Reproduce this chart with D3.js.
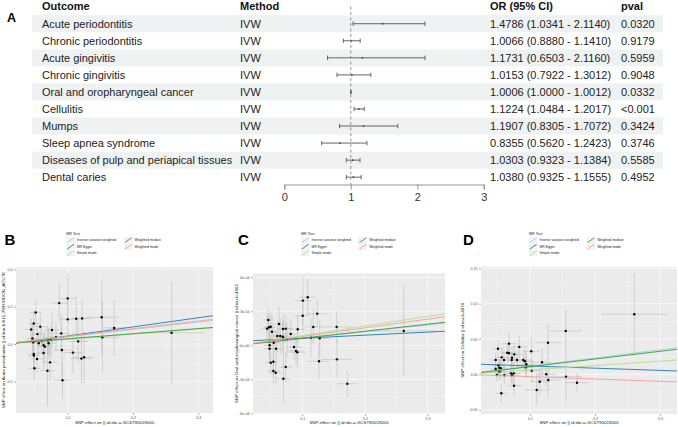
<!DOCTYPE html>
<html><head><meta charset="utf-8">
<script src="https://cdn.jsdelivr.net/npm/d3@7"></script>
<style>body{margin:0;background:#fff} svg{display:block}</style>
</head><body><svg id="c" width="678" height="427"></svg>
<script>
// ---------- Panel A data ----------
const outcomes = ["Acute periodontitis","Chronic periodontitis","Acute gingivitis","Chronic gingivitis","Oral and oropharyngeal cancer","Cellulitis","Mumps","Sleep apnea syndrome","Diseases of pulp and periapical tissues","Dental caries"];
const methodsA = ["IVW","IVW","IVW","IVW","IVW","IVW","IVW","IVW","IVW","IVW"];
const orEst  = [1.4786,1.0066,1.1731,1.0153,1.0006,1.1224,1.1907,0.8355,1.0303,1.0380];
const orLow  = [1.0341,0.8880,0.6503,0.7922,1.0000,1.0484,0.8305,0.5620,0.9323,0.9325];
const orHigh = [2.1140,1.1410,2.1160,1.3012,1.0012,1.2017,1.7072,1.2423,1.1384,1.1555];
const pvals  = ["0.0320","0.9179","0.5959","0.9048","0.0332","<0.001","0.3424","0.3746","0.5585","0.4952"];
const forestTicks = [0,1,2,3];

// ---------- MR scatter shared ----------
const mrMethods = ["Inverse variance weighted","MR Egger","Simple mode","Weighted median","Weighted mode"];
const mrPalette = ["#a6cee3","#1f78b4","#b2df8a","#33a02c","#fb9a99"];
const xTicks = [0.1,0.2,0.3];
const xTickLabels = ["0.1","0.2","0.3"];
const xMinor = [0.05,0.15,0.25];

// Panel B
const bExpB = [0.051,0.087,0.100,0.100,0.113,0.122,0.048,0.044,0.058,0.0535,0.046,0.060,0.076,0.082,0.090,0.069,0.047,0.0556,0.063,0.065,0.071,0.0708,0.0745,0.091,0.116,0.048,0.048,0.053,0.063,0.073,0.108,0.121,0.125,0.049,0.069,0.092,0.152,0.153,0.171,0.259];
const bOutB = [0.169,0.219,0.244,0.132,0.135,0.137,0.110,0.078,0.093,0.053,0.030,0.016,0.075,0.036,0.057,0.020,0.009,0.004,-0.006,-0.014,0.021,0.004,0.021,-0.032,0.014,-0.053,-0.062,-0.080,-0.048,-0.098,-0.046,-0.078,-0.071,-0.130,-0.143,-0.194,0.143,0.036,0.086,0.060];
const seExpB = [0.010,0.013,0.012,0.012,0.014,0.016,0.009,0.009,0.010,0.010,0.009,0.010,0.012,0.012,0.013,0.011,0.009,0.010,0.010,0.011,0.011,0.011,0.011,0.013,0.015,0.009,0.009,0.010,0.010,0.012,0.015,0.016,0.016,0.009,0.011,0.013,0.025,0.025,0.017,0.050];
const seOutB = [0.07,0.10,0.132,0.11,0.12,0.10,0.07,0.06,0.07,0.06,0.08,0.07,0.09,0.08,0.10,0.08,0.06,0.06,0.07,0.09,0.07,0.08,0.09,0.15,0.12,0.08,0.08,0.07,0.09,0.10,0.11,0.13,0.14,0.07,0.19,0.10,0.20,0.19,0.15,0.27];
const interceptB = [0,-0.006,0,0,0];
const slopeB = [0.391,0.488,0.27,0.275,0.41];
const yTicksB = [-0.2,0,0.2,0.4];
const yTickLabelsB = ["-0.2","0.0","0.2","0.4"];
const yMinorB = [-0.3,-0.1,0.1,0.3];

// Panel C
const bExpC = [0.101,0.1088,0.1008,0.124,0.1177,0.155,0.262,0.046,0.044,0.047,0.0498,0.0518,0.063,0.0603,0.065,0.0694,0.0737,0.0689,0.070,0.0758,0.0817,0.0928,0.0475,0.0545,0.048,0.048,0.0582,0.0869,0.0901,0.0922,0.114,0.1279,0.0498,0.054,0.0737,0.1268,0.1555,0.054,0.0577,0.070,0.172];
const bOutC = [3.94e-4,4.24e-4,2.61e-4,2.79e-4,1.62e-4,1.62e-4,1.26e-4,2.23e-4,1.47e-4,1.59e-4,1.64e-4,1.20e-4,1.88e-4,0.82e-4,0.82e-4,1.44e-4,1.47e-4,0.76e-4,0.62e-4,0.53e-4,1.00e-4,1.41e-4,0.32e-4,0.23e-4,0.0,-0.30e-4,-0.30e-4,-0.15e-4,-0.50e-4,-0.62e-4,0.67e-4,0.62e-4,-1.54e-4,-1.45e-4,-1.92e-4,-1.41e-4,-1.24e-4,-2.27e-4,-2.42e-4,-2.95e-4,-3.39e-4];
const seExpC = [0.012,0.013,0.012,0.015,0.014,0.025,0.050,0.009,0.009,0.009,0.009,0.010,0.010,0.010,0.011,0.011,0.011,0.011,0.011,0.012,0.012,0.013,0.009,0.010,0.009,0.009,0.010,0.013,0.013,0.013,0.014,0.016,0.009,0.010,0.011,0.016,0.025,0.010,0.010,0.011,0.017];
const seOutC = [2.2e-4,1.6e-4,1.5e-4,1.2e-4,1.6e-4,1.4e-4,4.0e-4,1.0e-4,1.3e-4,1.2e-4,1.4e-4,1.5e-4,1.5e-4,1.4e-4,1.6e-4,1.3e-4,1.2e-4,1.4e-4,1.6e-4,1.5e-4,1.3e-4,1.2e-4,1.1e-4,1.3e-4,1.2e-4,1.1e-4,1.6e-4,1.1e-4,1.2e-4,1.3e-4,1.7e-4,1.6e-4,1.0e-4,1.2e-4,1.3e-4,1.6e-4,1.6e-4,1.1e-4,1.0e-4,2.1e-4,1.2e-4];
const interceptC = [0,0.35e-4,0,0,0];
const slopeC = [0.00060,0.000271,0.00085,0.00062,0.00077];
const yTicksC = [-6e-4,-3e-4,0,3e-4,6e-4];
const yTickLabelsC = ["-6e-04","-3e-04","0e+00","3e-04","6e-04"];
const yMinorC = [-4.5e-4,-1.5e-4,1.5e-4,4.5e-4];

// Panel D
const bExpD = [0.2605,0.155,0.1277,0.102,0.0835,0.0677,0.0508,0.0472,0.0564,0.060,0.0651,0.0677,0.0723,0.0718,0.0758,0.080,0.0897,0.0923,0.0944,0.0938,0.0513,0.0528,0.0549,0.0472,0.0523,0.0492,0.0543,0.0605,0.0708,0.0723,0.0749,0.0754,0.1026,0.1185,0.125,0.1282,0.1149,0.1103,0.1554,0.1723,0.0559];
const bOutD = [0.085,0.0613,0.0448,0.0326,0.0387,0.0434,0.0363,0.0203,0.024,0.0203,0.0306,0.030,0.0235,0.0203,0.0283,0.0203,0.0203,0.0184,0.0142,0.0099,0.0127,0.0094,0.0085,0.0075,0.0037,-0.001,0.0042,-0.0014,0.0014,-0.0014,0.0014,-0.0161,0.0051,0.017,0.0,-0.008,-0.0105,-0.0222,-0.0034,-0.0119,-0.0269];
const seExpD = [0.050,0.025,0.020,0.012,0.013,0.011,0.009,0.009,0.010,0.010,0.010,0.011,0.011,0.011,0.012,0.012,0.013,0.013,0.013,0.013,0.009,0.009,0.010,0.009,0.009,0.009,0.010,0.010,0.011,0.011,0.011,0.011,0.014,0.015,0.016,0.016,0.015,0.019,0.025,0.017,0.009];
const seOutD = [0.058,0.030,0.026,0.020,0.016,0.015,0.013,0.011,0.012,0.014,0.013,0.012,0.014,0.012,0.013,0.013,0.014,0.016,0.017,0.015,0.012,0.011,0.012,0.010,0.011,0.010,0.012,0.013,0.014,0.013,0.015,0.014,0.016,0.020,0.018,0.025,0.020,0.022,0.035,0.014,0.013];
const interceptD = [0,0.015,0,0,0];
const slopeD = [0.1155,-0.0315,0.062,0.1086,-0.033];
const yTicksD = [-0.05,0,0.05,0.10,0.15];
const yTickLabelsD = ["-0.05","0.00","0.05","0.10","0.15"];
const yMinorD = [-0.025,0.025,0.075,0.125];

// ---------- Drawing ----------
const svg = d3.select("#c");
const FONT = "'Liberation Sans', Arial, Helvetica, sans-serif";
svg.attr("font-family", FONT);

// Panel A
(function(){
  const g = svg.append("g");
  const n = outcomes.length;
  const fx = d3.scaleLinear().domain([0,3]).range([284.3,483.8]);
  const fy = d3.scaleBand().domain(d3.range(n)).range([15.2,185.7]);
  const bw = fy.bandwidth();
  g.selectAll("rect.stripe").data(d3.range(n).filter(i=>i%2===0)).join("rect")
    .attr("x",32).attr("width",631).attr("y",i=>fy(i)).attr("height",bw).attr("fill","#eff2f2");
  const hdr = [["Outcome",42],["Method",240],["OR (95% CI)",490],["pval",621]];
  g.selectAll("text.h").data(hdr).join("text").attr("x",d=>d[1]).attr("y",10)
    .attr("font-size",11).attr("font-weight","bold").attr("fill","#111").text(d=>d[0]);
  const fmt = d3.format(".4f");
  const rows = g.selectAll("g.row").data(d3.range(n)).join("g")
    .attr("transform",i=>`translate(0,${fy(i)+bw/2})`);
  rows.append("text").attr("x",42).attr("y",3.9).attr("font-size",11).attr("fill","#222").text(i=>outcomes[i]);
  rows.append("text").attr("x",240).attr("y",3.9).attr("font-size",11).attr("fill","#222").text(i=>methodsA[i]);
  rows.append("text").attr("x",490).attr("y",3.9).attr("font-size",11).attr("fill","#222")
    .text(i=>`${fmt(orEst[i])} (${fmt(orLow[i])} - ${fmt(orHigh[i])})`);
  rows.append("text").attr("x",621).attr("y",3.9).attr("font-size",11).attr("fill","#222").text(i=>pvals[i]);
  // reference line
  g.append("line").attr("x1",fx(1)).attr("x2",fx(1)).attr("y1",6.5).attr("y2",184.5)
    .attr("stroke","#888").attr("stroke-width",0.9).attr("stroke-dasharray","3,2.5");
  // CIs
  rows.append("line").attr("x1",i=>fx(orLow[i])).attr("x2",i=>fx(orHigh[i])).attr("y1",0).attr("y2",0)
    .attr("stroke","#555").attr("stroke-width",0.9);
  rows.append("line").attr("x1",i=>fx(orLow[i])).attr("x2",i=>fx(orLow[i])).attr("y1",-2.2).attr("y2",2.2)
    .attr("stroke","#555").attr("stroke-width",0.9);
  rows.append("line").attr("x1",i=>fx(orHigh[i])).attr("x2",i=>fx(orHigh[i])).attr("y1",-2.2).attr("y2",2.2)
    .attr("stroke","#555").attr("stroke-width",0.9);
  rows.append("circle").attr("cx",i=>fx(orEst[i])).attr("cy",0).attr("r",0.9).attr("fill","#444");
  // axis
  const ax = g.append("g").attr("transform","translate(0,184.5)")
    .call(d3.axisBottom(fx).tickValues(forestTicks).tickFormat(d3.format("d")).tickSize(5).tickPadding(4));
  ax.select(".domain").attr("stroke","#8a8a8a").attr("stroke-width",0.9);
  ax.selectAll(".tick line").attr("stroke","#8a8a8a").attr("stroke-width",0.9);
  ax.selectAll(".tick text").attr("font-size",11).attr("fill","#333").attr("font-family",FONT);
  // label A
  svg.append("text").attr("x",7).attr("y",21.5).attr("font-size",12.5).attr("font-weight","bold").text("A");
})();

function scatterPanel(cfg){
  const g = svg.append("g");
  const x = d3.scaleLinear().domain(cfg.xDomain).range([cfg.left,cfg.right]);
  const y = d3.scaleLinear().domain(cfg.yDomain).range([cfg.bottom,cfg.top]);
  const clipId = "clip"+cfg.letter;
  g.append("clipPath").attr("id",clipId).append("rect")
    .attr("x",cfg.left).attr("y",cfg.top).attr("width",cfg.right-cfg.left).attr("height",cfg.bottom-cfg.top);
  g.append("rect").attr("x",cfg.left).attr("y",cfg.top).attr("width",cfg.right-cfg.left)
    .attr("height",cfg.bottom-cfg.top).attr("fill","#ebebeb");
  const grid = g.append("g");
  grid.selectAll("line.xmi").data(xMinor).join("line").attr("x1",d=>x(d)).attr("x2",d=>x(d))
    .attr("y1",cfg.top).attr("y2",cfg.bottom).attr("stroke","#fff").attr("stroke-width",0.3);
  grid.selectAll("line.ymi").data(cfg.yMinor).join("line").attr("y1",d=>y(d)).attr("y2",d=>y(d))
    .attr("x1",cfg.left).attr("x2",cfg.right).attr("stroke","#fff").attr("stroke-width",0.3);
  grid.selectAll("line.xma").data(xTicks).join("line").attr("x1",d=>x(d)).attr("x2",d=>x(d))
    .attr("y1",cfg.top).attr("y2",cfg.bottom).attr("stroke","#fff").attr("stroke-width",0.6);
  grid.selectAll("line.yma").data(cfg.yTicks).join("line").attr("y1",d=>y(d)).attr("y2",d=>y(d))
    .attr("x1",cfg.left).attr("x2",cfg.right).attr("stroke","#fff").attr("stroke-width",0.6);
  const pts = d3.range(cfg.bx.length);
  const marks = g.append("g").attr("clip-path",`url(#${clipId})`);
  marks.selectAll("line.ev").data(pts).join("line")
    .attr("x1",i=>x(cfg.bx[i])).attr("x2",i=>x(cfg.bx[i]))
    .attr("y1",i=>y(cfg.by[i]-cfg.sy[i])).attr("y2",i=>y(cfg.by[i]+cfg.sy[i]))
    .attr("stroke","#bebebe").attr("stroke-width",0.6);
  marks.selectAll("line.eh").data(pts).join("line")
    .attr("y1",i=>y(cfg.by[i])).attr("y2",i=>y(cfg.by[i]))
    .attr("x1",i=>x(cfg.bx[i]-cfg.sx[i])).attr("x2",i=>x(cfg.bx[i]+cfg.sx[i]))
    .attr("stroke","#bebebe").attr("stroke-width",0.6);
  marks.selectAll("circle").data(pts).join("circle")
    .attr("cx",i=>x(cfg.bx[i])).attr("cy",i=>y(cfg.by[i])).attr("r",1.2).attr("fill","#000");
  const [x0,x1] = cfg.xDomain;
  marks.selectAll("line.fit").data(d3.range(mrMethods.length)).join("line")
    .attr("x1",x(x0)).attr("x2",x(x1))
    .attr("y1",k=>y(cfg.intercept[k]+cfg.slope[k]*x0)).attr("y2",k=>y(cfg.intercept[k]+cfg.slope[k]*x1))
    .attr("stroke",k=>mrPalette[k]).attr("stroke-width",0.9);
  // axes
  const ay = g.append("g").attr("transform",`translate(${cfg.left},0)`)
    .call(d3.axisLeft(y).tickValues(cfg.yTicks).tickFormat((d,i)=>cfg.yTickLabels[i]).tickSize(2).tickPadding(1.5));
  const axb = g.append("g").attr("transform",`translate(0,${cfg.bottom})`)
    .call(d3.axisBottom(x).tickValues(xTicks).tickFormat((d,i)=>xTickLabels[i]).tickSize(2).tickPadding(1.2));
  [ay,axb].forEach(a=>{
    a.select(".domain").remove();
    a.selectAll(".tick line").attr("stroke","#333").attr("stroke-width",0.4);
    a.selectAll(".tick text").attr("font-size",3.6).attr("fill","#4d4d4d").attr("font-family",FONT);
  });
  g.append("text").attr("x",(cfg.left+cfg.right)/2).attr("y",423.5).attr("text-anchor","middle")
    .attr("font-size",4.4).attr("fill","#222").text("SNP effect on  || id:ebi-a-GCST90019000");
  g.append("text").attr("transform",`translate(${cfg.ytitleX},${(cfg.top+cfg.bottom)/2}) rotate(-90)`)
    .attr("text-anchor","middle").attr("dominant-baseline","central")
    .attr("font-size",4.4).attr("fill","#222").text(cfg.yTitle);
  // legend
  const lg = g.append("g");
  lg.append("text").attr("x",cfg.legendX).attr("y",234.8).attr("font-size",3.7).attr("fill","#222").text("MR Test");
  const colOf = k=> k<3 ? 0 : 1, rowOf = k=> k<3 ? k : k-3;
  const items = lg.selectAll("g.it").data(d3.range(mrMethods.length)).join("g")
    .attr("transform",k=>`translate(${cfg.legendX+colOf(k)*57.7},${237+rowOf(k)*6.5})`);
  items.append("rect").attr("width",8.5).attr("height",6.3).attr("fill","#f2f2f2");
  items.append("line").attr("x1",0.8).attr("y1",5.6).attr("x2",7.7).attr("y2",0.7)
    .attr("stroke",k=>mrPalette[k]).attr("stroke-width",0.9);
  items.append("text").attr("x",10.5).attr("y",4.4).attr("font-size",3.4).attr("fill","#222").text(k=>mrMethods[k]);
  svg.append("text").attr("x",cfg.labelX).attr("y",244.5).attr("font-size",15).attr("font-weight","bold").text(cfg.letter);
}

scatterPanel({letter:"B",labelX:4.5,left:16,right:213,top:267,bottom:413,
  xDomain:[0.0208,0.3224],yDomain:[-0.369,0.412],
  bx:bExpB,by:bOutB,sx:seExpB,sy:seOutB,intercept:interceptB,slope:slopeB,
  yTicks:yTicksB,yTickLabels:yTickLabelsB,yMinor:yMinorB,
  yTitle:"SNP effect on Acute periodontitis || id:finn-b-K11_PERIODON_ACUTE",ytitleX:3.3,legendX:66.3});
scatterPanel({letter:"C",labelX:238,left:253,right:445,top:273.3,bottom:414,
  xDomain:[0.0215,0.3278],yDomain:[-6.06e-4,6.35e-4],
  bx:bExpC,by:bOutC,sx:seExpC,sy:seOutC,intercept:interceptC,slope:slopeC,
  yTicks:yTicksC,yTickLabels:yTickLabelsC,yMinor:yMinorC,
  yTitle:"SNP effect on Oral and oropharyngeal cancer || id:ieu-b-4962",ytitleX:236,legendX:301});
scatterPanel({letter:"D",labelX:463,left:481,right:677,top:266.7,bottom:414,
  xDomain:[0.0246,0.3262],yDomain:[-0.0562,0.1524],
  bx:bExpD,by:bOutD,sx:seExpD,sy:seOutD,intercept:interceptD,slope:slopeD,
  yTicks:yTicksD,yTickLabels:yTickLabelsD,yMinor:yMinorD,
  yTitle:"SNP effect on Cellulitis || id:ieu-b-4970",ytitleX:462.7,legendX:529});
</script></body></html>
